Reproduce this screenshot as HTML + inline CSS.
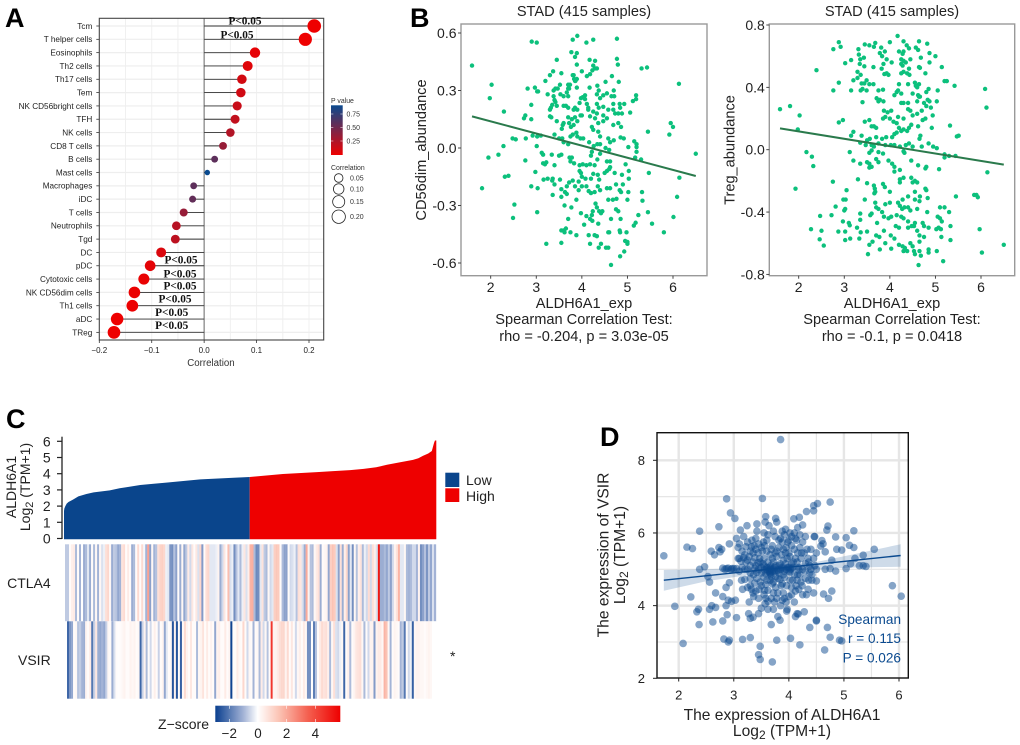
<!DOCTYPE html>
<html lang="en">
<head>
<meta charset="utf-8">
<title>ALDH6A1 immune correlation figure</title>
<style>
html,body{margin:0;padding:0;background:#fff;width:1020px;height:745px;overflow:hidden}
svg{display:block;font-family:"Liberation Sans",sans-serif;filter:blur(.35px)}
.letter{font-size:27px;font-weight:bold;fill:#000}
.pl{font-family:"Liberation Serif",serif;font-weight:bold;font-size:11.3px;fill:#111;text-anchor:middle}
.b{font-size:14.6px;fill:#222;text-anchor:middle}
.c{font-size:14px;fill:#222}
.d{font-size:15.6px;fill:#222;text-anchor:middle}
.ds{font-size:13.6px;fill:#0b4a8f;text-anchor:end}
</style>
</head>
<body>
<svg id="fig" width="1020" height="745" viewBox="0 0 1020 745" xmlns="http://www.w3.org/2000/svg">
<rect width="1020" height="745" fill="#fff"/>
<text class="letter" x="5" y="27">A</text>
<text class="letter" x="410" y="27">B</text>
<text class="letter" x="6" y="428">C</text>
<text class="letter" x="600" y="446">D</text>

<g id="panelA"></g>
<g>
<text class="pl" x="245" y="24.5">P&lt;0.05</text>
<text class="pl" x="237" y="38.5">P&lt;0.05</text>
<text class="pl" x="181" y="263.5">P&lt;0.05</text>
<text class="pl" x="180" y="277.5">P&lt;0.05</text>
<text class="pl" x="180" y="289.5">P&lt;0.05</text>
<text class="pl" x="175" y="302.5">P&lt;0.05</text>
<text class="pl" x="171.7" y="316">P&lt;0.05</text>
<text class="pl" x="171.7" y="329">P&lt;0.05</text>
</g>
<text x="211" y="366" text-anchor="middle" font-size="9.7" fill="#333">Correlation</text>
<text x="331" y="103" font-size="6.9" fill="#333">P value</text>
<text x="331" y="170" font-size="6.9" fill="#333">Correlation</text>

<g id="panelB1"></g>
<text class="b" x="584" y="16">STAD (415 samples)</text>
<text class="b" x="584" y="308">ALDH6A1_exp</text>
<text class="b" x="584" y="324">Spearman Correlation Test:</text>
<text class="b" x="584" y="341">rho = -0.204, p = 3.03e-05</text>
<text class="b" transform="translate(426,150) rotate(-90)">CD56dim_abundance</text>

<g id="panelB2"></g>
<text class="b" x="892" y="16">STAD (415 samples)</text>
<text class="b" x="892" y="308">ALDH6A1_exp</text>
<text class="b" x="892" y="324">Spearman Correlation Test:</text>
<text class="b" x="892" y="341">rho = -0.1, p = 0.0418</text>
<text class="b" transform="translate(734.5,150) rotate(-90)">Treg_abundance</text>

<g id="panelC"></g>
<text class="c" text-anchor="middle" font-size="14.6" transform="translate(16,487) rotate(-90)">ALDH6A1</text>
<text class="c" text-anchor="middle" font-size="14.6" transform="translate(30,487) rotate(-90)">Log<tspan dy="3" font-size="11">2</tspan><tspan dy="-3"> (TPM+1)</tspan></text>
<rect x="445.3" y="472.7" width="14" height="14.3" fill="#0a458c"/>
<rect x="445.3" y="488.3" width="14" height="13.7" fill="#ee0000"/>
<text class="c" x="466" y="485" font-size="13.4">Low</text>
<text class="c" x="466" y="501" font-size="13.4">High</text>
<text class="c" x="50.7" y="588" text-anchor="end" font-size="13">CTLA4</text>
<text class="c" x="50.7" y="665" text-anchor="end" font-size="13">VSIR</text>
<text class="c" x="452.7" y="661" text-anchor="middle" font-size="11">*</text>
<text class="c" x="209" y="729" text-anchor="end" font-size="13">Z−score</text>

<g id="panelD"></g>
<text class="d" x="782" y="720">The expression of ALDH6A1</text>
<text class="d" x="782" y="736">Log<tspan dy="3" font-size="12">2</tspan><tspan dy="-3"> (TPM+1)</tspan></text>
<text class="d" transform="translate(608.5,555) rotate(-90)">The expression of VSIR</text>
<text class="d" transform="translate(625,555) rotate(-90)">Log<tspan dy="3" font-size="12">2</tspan><tspan dy="-3"> (TPM+1)</tspan></text>
<text class="ds" x="901" y="624">Spearman</text>
<text class="ds" x="901" y="643">r = 0.115</text>
<text class="ds" x="901" y="662.5">P = 0.026</text>

<defs>
<linearGradient id="pGrad" x1="0" y1="1" x2="0" y2="0"><stop offset="0" stop-color="#ee0000"/><stop offset="1" stop-color="#0a4a8f"/></linearGradient>
<linearGradient id="zGrad" x1="0" y1="0" x2="1" y2="0"><stop offset="0" stop-color="#0a3f8f"/><stop offset=".225" stop-color="#a3b3d6"/><stop offset=".339" stop-color="#ffffff"/><stop offset=".511" stop-color="#fbc3b4"/><stop offset=".741" stop-color="#f46050"/><stop offset="1" stop-color="#ee0000"/></linearGradient>
</defs>
</svg>

<script>
/* ---------- Panel A data ---------- */
const cellNames = ["Tcm","T helper cells","Eosinophils","Th2 cells","Th17 cells","Tem","NK CD56bright cells","TFH","NK cells","CD8 T cells","B cells","Mast cells","Macrophages","iDC","T cells","Neutrophils","Tgd","DC","pDC","Cytotoxic cells","NK CD56dim cells","Th1 cells","aDC","TReg"];
const cellCorr = [0.21,0.193,0.097,0.083,0.072,0.07,0.063,0.059,0.05,0.036,0.02,0.006,-0.02,-0.022,-0.039,-0.053,-0.055,-0.082,-0.103,-0.115,-0.133,-0.137,-0.166,-0.172];
const cellP = [0,0,0.03,0.06,0.11,0.12,0.15,0.18,0.24,0.35,0.58,0.91,0.58,0.56,0.35,0.22,0.2,0.08,0.04,0.02,0.01,0.006,0.001,0.001];
const corrTicks = [-0.2,-0.1,0,0.1,0.2];
const pLegendTicks = [0.25,0.5,0.75];
const sizeLegend = [0.05,0.1,0.15,0.2];

/* ---------- Panel B data ---------- */
const bXTicks = [2,3,4,5,6];
const cd56Ticks = [-0.6,-0.3,0,0.3,0.6];
const tregTicks = [-0.8,-0.4,0,0.4,0.8];
const cd56FitX = [1.59,6.5];
const cd56FitY = [0.165,-0.146];
const tregFitX = [1.59,6.5];
const tregFitY = [0.137,-0.096];
const cd56Points = [[1.59,.43],[2.02,.33],[1.98,.26],[2.29,.19],[1.95,-.05],[2.17,-.035],[2.28,.01],[1.81,-.21],[2.31,-.15],[2.39,-.145],[2.48,.05],[2.55,.045],[2.52,-.295],[2.49,-.365],
[2.9,.555],[3.01,.55],[2.81,.31],[2.97,.315],[3.02,.295],[3.04,.295],[2.89,.225],[2.73,.155],[2.76,.17],[2.89,.15],[2.77,.05],[2.92,.065],[3.02,.06],[3.01,.01],[3.1,.065],[3.12,-.025],[3.15,-.035],[2.76,-.065],[2.98,-.125],[2.89,-.2],[3.03,-.21],[3.02,-.335],[3.22,-.5],[3.15,-.08],[3.22,-.075],[3.19,-.085],[3.16,-.165],[3.2,.35],[3.3,.38],[3.37,.4],[3.45,.46],[3.55,.39],[3.52,.33],[3.25,.28],[3.38,.3],[3.42,.31],[3.47,.31],[3.38,.27],[3.4,.25],[3.53,.28],[3.6,.27],[3.67,.29],[3.7,.27],[3.72,.31],[3.74,.33],[3.86,.35],[3.89,.36],[3.8,.38],[3.85,.35],[3.3,.2],[3.32,.21],[3.35,.225],[3.42,.24],[3.45,.22],[3.6,.22],[3.65,.22],[3.7,.21],[3.3,.165],[3.33,.16],[3.45,.14],[3.6,.13],[3.58,.12],[3.56,.1],[3.7,.16],[3.72,.13],[3.76,.11],[3.78,.15],[3.85,.16],[3.82,.12],[3.9,.14],[3.97,.17],[4.0,.17],[3.9,.2],[3.85,.21],[3.4,.07],[3.5,.05],[3.57,.05],[3.6,.03],[3.7,.02],[3.75,.06],[3.8,.07],[3.88,.08],[3.9,.06],[3.97,.05],[4.03,.05],
[3.9,.585],[3.8,.565],[4.1,.55],[4.25,.565],[4.77,.57],[3.77,.5],[3.89,.495],[3.85,.475],[4.77,.465],[4.79,.435],[4.17,.46],[4.29,.455],[4.25,.43],[3.89,.435],[4.33,.415],[4.29,.415],[4.23,.405],[4.18,.385],[4.0,.4],[4.11,.375],[4.66,.375],[4.81,.345],[4.52,.345],[5.31,.415],[5.43,.42],[6.13,.335],[3.86,.355],[3.82,.38],[3.83,.36],[3.7,.33],[3.7,.31],[3.89,.315],[4.17,.315],[4.34,.325],[4.37,.3],[4.7,.3],[4.55,.285],[4.47,.275],[4.33,.28],[4.4,.26],[4.65,.27],[4.71,.27],[5.19,.275],[5.19,.255],[5.12,.245],[4.02,.265],[4.07,.275],[3.98,.26],[4.07,.255],[3.95,.235],[4.11,.23],[4.14,.21],[4.14,.2],[4.33,.23],[4.37,.21],[4.47,.215],[4.58,.2],[4.69,.23],[4.69,.2],[4.83,.23],[4.93,.23],[5.06,.185],[4.84,.21],[4.73,.18],[4.8,.18],[4.88,.18],[3.82,.2],[4.25,.19],[4.33,.18],[4.18,.165],[4.29,.155],[4.47,.17],[4.55,.155],[4.47,.14],[4.69,.12],[4.8,.13],[4.86,.11],[4.36,.13],[4.22,.11],[4.25,.095],[4.36,.085],[4.4,.06],[4.58,.05],[4.62,.03],[4.7,.04],[4.85,.055],[4.92,.05],[5.02,.005],[5.15,.035],[5.2,.02],[5.2,.005],[5.45,.085],[5.95,.13],[6.0,.11],[5.92,.07],[4.16,.03],[4.26,.01],[4.34,.02],[4.4,.02],[4.52,.0],[4.6,-.01],[5.17,-.05],[5.2,-.02],[5.3,-.06],
[6.5,-.03],[6.14,-.155],[6.09,-.255],[6.01,-.36],[5.8,-.44],[5.54,-.395],[5.47,-.13],[5.32,-.23],[5.33,-.275],[5.24,-.35],[5.45,-.335],[5.18,-.39],[5.14,-.405],[5.03,-.12],[5.03,-.16],[5.02,-.23],[5.0,-.27],[4.96,-.085],[4.88,-.14],[4.72,-.13],[4.75,-.19],[4.9,-.19],[4.86,-.23],[4.83,-.22],[4.76,-.265],[4.68,-.27],[4.62,-.21],[4.55,-.21],[4.58,-.27],[4.75,-.32],[4.8,-.33],[4.64,-.37],[4.85,-.37],[4.83,-.43],[4.84,-.44],[4.6,-.44],[4.58,-.44],[4.98,-.44],[4.95,-.485],[5.0,-.49],[5.0,-.5],[4.93,-.54],[4.84,-.565],[4.64,-.61],[4.58,-.52],[4.53,-.52],[4.42,-.5],[4.37,-.52],[4.33,-.46],[4.28,-.455],[4.18,-.5],[4.15,-.455],[4.05,-.4],[3.98,-.34],[3.88,-.455],[3.75,-.44],[3.55,-.495],[3.6,-.43],[3.65,-.42],[3.62,-.44],[3.55,-.43],[3.7,-.37],[3.62,-.3],[3.77,-.31],[3.88,-.27],[3.55,-.255],[3.55,-.215],[3.63,-.23],[3.67,-.2],[3.67,-.24],[3.36,-.245],[3.4,-.19],[3.35,-.17],[3.36,-.16],[3.52,-.165],[3.25,-.16],[3.4,-.09],[3.34,-.035],[3.5,-.04],[3.55,-.035],[3.73,-.05],[3.75,-.07],[3.78,-.05],[3.83,-.08],[3.95,-.12],[3.98,-.13],[4.0,-.15],[3.95,-.09],[4.02,-.085],[4.1,-.09],[4.18,-.085],[4.28,-.09],[4.2,-.04],[4.22,-.02],[4.34,-.06],[4.4,-.03],[4.55,-.07],[4.62,-.07],[4.62,-.1],[4.55,-.12],[4.5,-.13],[4.6,-.11],[4.35,-.14],[4.38,-.165],[4.25,-.135],[4.2,-.16],[4.08,-.16],[3.93,-.175],[3.8,-.17],[3.72,-.18],[3.85,-.2],[3.93,-.22],[4.0,-.2],[4.1,-.2],[4.15,-.225],[4.2,-.235],[4.28,-.23],[4.35,-.2],[4.4,-.22],[4.3,-.29],[4.33,-.31],[4.24,-.33],[4.22,-.35],[4.38,-.33],[4.42,-.34],[4.45,-.33],[4.18,-.37],[4.23,-.38],[4.1,-.355],[4.36,-.395]];
const tregPoints = [[1.59,.26],[1.81,.28],[2.02,.22],[1.98,.13],[2.17,-.015],[2.29,-.045],[2.32,-.105],[1.93,-.25],[2.39,.51],[2.88,.69],[2.92,.66],[2.76,.645],[3.02,.555],[2.88,.43],[2.76,.38],[3.15,.38],[3.15,.575],[3.2,.445],[3.29,.46],[3.29,.5],[3.36,.48],[3.31,.645],[3.32,.61],[3.43,.59],[3.35,.58],[3.34,.55],[3.45,.675],[3.55,.67],[3.65,.66],[3.68,.685],[3.81,.655],[3.89,.63],[4.0,.69],[3.78,.62],[3.83,.6],[3.93,.58],[3.86,.55],[4.04,.56],[3.64,.53],[3.44,.535],[3.82,.52],[3.88,.485],[3.93,.49],[3.97,.48],[3.49,.445],[3.38,.425],[3.44,.425],[3.55,.42],[3.64,.42],[3.4,.39],[3.36,.38],[3.49,.38],[3.4,.305],[3.71,.33],[3.75,.31],[3.78,.32],[3.86,.31],[3.75,.38],[3.85,.385],
[4.17,.73],[4.3,.695],[4.64,.695],[4.82,.68],[4.37,.67],[4.42,.65],[4.2,.63],[4.3,.63],[4.28,.615],[4.57,.655],[4.62,.64],[4.87,.62],[5.0,.6],[4.25,.58],[4.3,.57],[4.35,.56],[4.45,.58],[4.68,.59],[4.25,.55],[4.28,.54],[4.42,.52],[4.64,.53],[4.66,.525],[4.87,.56],[5.14,.53],[4.25,.49],[4.3,.5],[4.38,.49],[4.43,.48],[4.78,.49],[4.64,.42],[4.2,.42],[4.18,.38],[4.1,.35],[4.15,.37],[4.25,.36],[4.4,.42],[4.55,.43],[4.57,.41],[4.6,.4],[4.85,.39],[4.8,.37],[5.05,.38],[5.2,.44],[5.25,.44],[5.42,.41],[6.09,.39],[6.12,.27],[4.62,.35],[4.64,.34],[4.66,.34],[4.5,.36],[4.25,.3],[4.3,.3],[4.4,.3],[4.6,.31],[4.83,.32],[4.87,.31],[4.9,.27],[5.03,.31],[4.8,.28],[4.75,.3],[4.4,.26],[4.45,.25],[4.5,.22],[4.6,.23],[4.7,.25],[4.78,.2],[4.94,.22],[4.18,.21],[4.3,.2],[4.03,.25],[3.87,.25],[3.95,.24],[3.9,.21],[3.85,.2],[4.0,.2],[4.08,.18],[4.15,.17],[4.2,.14],[4.25,.12],[4.3,.13],[4.38,.12],[4.42,.14],[4.47,.16],[4.62,.15],[4.72,.19],[4.92,.14],[5.32,.155],[5.47,.085],[5.51,.09],[4.67,.09],[4.65,.07],
[3.55,.19],[3.45,.18],[3.6,.15],[3.7,.14],[3.65,.15],[2.88,.175],[2.97,.19],[3.2,.115],[3.15,.09],[3.38,.09],[3.5,.06],[3.56,.07],[3.7,.08],[3.83,.07],[3.92,.08],[4.05,.08],[4.1,.1],[4.15,.11],[3.35,.045],[3.47,.03],[3.6,.03],[3.65,.02],[3.75,.04],[3.9,.03],[4.02,.03],[4.1,.03],[4.22,.02],[4.35,.03],[4.42,.04],[4.5,.02],[4.7,.02],[4.85,.04],[4.95,.02],[5.03,.01],[3.12,-.015],[3.2,-.07],[3.35,-.09],[3.5,-.08],[3.55,-.09],[3.6,-.11],[3.55,-.115],[3.7,-.06],[3.75,-.08],[3.55,-.02],[3.6,-.005],[3.75,-.015],[3.85,-.025],[3.97,-.07],[4.05,-.09],[4.1,-.11],[4.1,-.14],[4.22,-.13],[4.3,-.18],[4.22,-.19],[4.22,-.21],[4.3,-.01],[4.32,-.02],[4.47,-.07],[4.62,-.1],[4.8,-.11],[4.78,-.12],[5.08,-.125],[5.2,-.03],[5.2,-.05],[5.3,-.04],[5.44,-.04],[6.14,-.145],[3.3,-.19],[2.75,-.205],[3.05,-.26],[3.5,-.215],[3.65,-.23],[3.67,-.25],[3.68,-.27],[3.66,-.28],[3.85,-.22],[3.89,-.24],[4.0,-.27],[4.47,-.18],[4.5,-.21],[4.55,-.2],[4.6,-.21],[4.55,-.27],[4.78,-.25],[4.8,-.26],[5.45,-.3],[5.85,-.29],[5.9,-.29],[5.93,-.305],
[2.47,-.425],[2.72,-.42],[2.27,-.51],[2.5,-.52],[2.46,-.575],[2.55,-.615],[2.81,-.365],[2.98,-.32],[3.03,-.32],[3.02,-.38],[3.0,-.39],[2.97,-.46],[2.87,-.525],[3.02,-.525],[3.02,-.58],[3.13,-.57],[3.1,-.47],[3.12,-.485],[3.28,-.5],[3.35,-.41],[3.35,-.45],[3.36,-.53],[3.33,-.57],[3.45,-.32],[3.5,-.525],[3.62,-.59],[3.55,-.61],[3.52,-.67],[3.78,-.64],[3.77,-.56],[3.7,-.55],[3.72,-.47],[3.57,-.42],[3.6,-.41],[3.75,-.38],[3.7,-.37],[3.68,-.34],[3.9,-.35],[3.83,-.4],[3.87,-.43],[3.97,-.44],[4.03,-.43],[4.0,-.34],[4.18,-.34],[4.28,-.32],[4.4,-.3],[4.55,-.32],[4.65,-.33],[4.66,-.3],[4.83,-.31],[4.22,-.36],[4.27,-.38],[4.32,-.37],[4.4,-.37],[4.45,-.39],[4.6,-.38],[4.82,-.4],[5.1,-.37],[5.2,-.37],[5.3,-.4],[5.05,-.43],[5.1,-.44],[5.14,-.46],[4.15,-.42],[4.25,-.43],[4.3,-.44],[4.4,-.46],[4.55,-.47],[4.72,-.47],[4.75,-.49],[4.85,-.5],[5.02,-.51],[5.07,-.5],[5.12,-.51],[5.33,-.49],[5.97,-.51],[3.87,-.52],[4.13,-.49],[4.2,-.5],[4.4,-.5],[4.48,-.49],[4.53,-.49],[4.6,-.52],[4.65,-.55],[5.13,-.56],[5.33,-.58],[4.02,-.55],[4.1,-.57],[3.9,-.6],[4.2,-.61],[4.28,-.62],[4.33,-.63],[4.45,-.6],[4.5,-.62],[4.53,-.65],[4.65,-.59],[4.75,-.56],[4.85,-.64],[4.85,-.66],[5.03,-.65],[4.03,-.635],[4.3,-.65],[4.38,-.65],[4.55,-.67],[4.65,-.65],[4.68,-.68],[4.63,-.74],[5.17,-.715],[6.02,-.66],[6.5,-.61]];

/* ---------- Panel C data ---------- */
const sampleRanks = [0,0.4,1.5,3,5,10,16,25,33,51,62,85,100,114,152,189,207,244,282,300,319,334,348,360,374,389,395,400,406,410,411,412.5,413.5,415];
const expressionValues = [1.7,1.85,2.0,2.15,2.25,2.4,2.6,2.75,2.85,2.97,3.1,3.3,3.38,3.45,3.65,3.75,3.8,3.98,4.1,4.16,4.22,4.3,4.4,4.55,4.7,4.85,4.95,5.1,5.25,5.4,5.6,5.9,6.05,6.05];
const sampleSplit = 207;
const sampleCount = 415;
const expressionTicks = [0,1,2,3,4,5,6];
const zTicks = [-2,0,2,4];
const ctla4Z = [-.7,-.7,.1,.4,.5,-.9,.1,-1,0,-1.1,-.9,-.3,-1.1,.1,-.9,.2,-1,.2,-.4,-.2,.8,1,.2,-1.1,-.7,-.8,-1.2,-1,.7,.9,.1,.5,.1,-1.1,-.9,.1,.9,.1,.9,-.1,-1,2.2,-1.3,.2,-1,-.8,.8,1.1,1.2,1,-.2,-.3,-1.5,-1.6,-.8,-1.3,.1,-1.1,.2,-1.2,
-.7,.5,-.5,.6,.1,.6,-.4,1,-1.4,.1,.8,1,-.3,-.3,-.3,-.2,.3,-1.1,-.5,.6,.1,1.6,-.4,-.2,-1.6,-.8,-.3,-.9,-.2,.6,-.4,.4,1.8,1.9,-.9,-1.7,-1.6,-.3,.7,-.7,-.9,.2,-.5,-.3,1.2,1.4,1.3,.1,-.9,-1.3,-1.3,.1,-.5,-.4,-.2,-.8,.8,.6,-.4,-1.1,2,.3,
-.8,-.9,.2,.5,.8,-1.1,.1,.2,.3,-1.2,1.2,1.5,1.3,-.4,-1.3,.8,-1.1,.4,1,-1.3,-.3,-1.6,.2,-.8,.4,.7,-.9,-.2,-.5,.9,-.5,.8,.4,-.4,5.2,-1.1,-1.1,-.9,-1.2,-.7,-1.3,-.5,.3,.7,1.8,-.3,-.3,.2,-.9,-1,-.9,-.5,-.5,-1,.3,-1.6,-1.3,-.8,-1.5,-.7,-1.2,-.4,-1];
const vsirZ = [0,-2.3,-1.5,-1.2,.1,.2,-.8,-.7,-1,-1.1,.3,.1,.5,-2,-.6,.6,-1.1,-1.2,-1,-1.2,-.6,.2,.1,-1.1,-.4,.1,.05,.1,.2,.3,.1,.1,.3,.2,.3,.1,.2,-2.3,-.6,.3,-.9,.1,-.5,.1,.4,.1,-.6,.1,.3,-1.2,-.3,.1,.2,-2.6,.3,-2.6,.1,-2.4,.2,.9,
.3,.1,.6,.1,.1,-.9,.2,.3,.7,.1,.5,.1,.3,.1,-1.2,.3,.4,.1,.1,.5,.1,.3,-2.9,.1,.1,.5,.2,.1,1,.1,-.5,.2,.1,-1,.1,.2,-.9,.5,-.5,.2,-.8,.1,4.5,.3,.3,.5,.8,1,1,.3,.9,.1,.6,.1,-.5,.2,.4,.1,.5,.2,-1.6,-1.6,
.05,-1.9,-.8,.1,.5,.9,.7,.8,.4,-.9,.2,.8,-.4,-.5,-.2,.2,-2.3,.1,.4,-.9,.1,.3,.6,.7,.8,.2,-.9,.1,-.5,.3,.3,-1.4,.3,.5,.5,.2,1.8,1.5,.2,-1,.1,.3,.2,.1,-1,-.7,-2,.1,-.5,-.2,-2.4,.2,.3,.3,.2,.2,.1,.2,.3,.2,0,0];

/* ---------- Panel D data ---------- */
const dXTicks = [2,3,4,5,6];
const dYTicks = [2,4,6,8];
const vsirFitX = [1.73,6.03];
const vsirFitY = [4.7,5.38];
const bandX = [1.73,2.5,3.3,3.9,4.5,5.2,6.03];
const bandLow = [4.41,4.67,4.85,4.93,5.0,5.05,5.07];
const bandHigh = [4.98,5.0,5.05,5.1,5.2,5.42,5.69];
const vsirPoints = [[1.73,5.37],[2.15,5.61],[2.25,5.57],[2.38,6.05],[2.73,6.17],[2.87,6.94],[2.94,6.55],[3.02,6.4],[3.52,6.95],[3.85,8.57],[4.75,6.85],[4.52,6.81],[4.45,6.75],[4.45,6.61],[4.32,6.59],[4.19,6.43],[4.09,6.39],[5.18,6.06],[5.04,5.87],[4.85,5.89],[5.55,5.55],[5.35,5.39],[5.88,4.55],[6.04,4.26],[5.1,5.66],[5.18,5.6],[4.87,5.55],[4.96,5.53],[4.71,6.19],[4.69,6.08],[4.6,5.79],[4.58,5.64],[4.62,5.7],[4.46,5.9],[4.66,5.48],[4.5,5.45],
[1.93,3.98],[2.08,2.96],[2.22,4.24],[2.33,3.83],[2.36,3.9],[2.37,3.48],[2.38,5.0],[2.47,5.07],[2.53,4.8],[2.56,4.65],[2.56,3.9],[2.6,4.0],[2.62,3.55],[2.59,5.5],[2.65,5.4],[2.67,3.95],[2.67,4.35],[2.73,5.6],[2.75,5.48],[2.78,5.55],[2.8,3.58],[2.8,4.25],[2.8,5.03],[2.82,3.08],[2.84,5.0],[2.86,4.0],[2.86,4.5],[2.87,5.02],[2.88,3.75],[2.9,3.0],[2.92,3.05],[2.9,4.15],[2.92,4.63],[2.9,5.03],[2.92,5.7],[2.96,4.12],[2.97,5.02],[3.03,4.15],[3.05,3.67],[3.05,5.02],[3.05,5.85],[3.08,5.3],[3.1,5.7],[3.12,6.08],[3.13,5.22],[3.14,4.7],[3.16,4.45],[3.16,3.07],[3.18,5.32],[3.18,5.9],[3.2,4.72],[3.22,5.62],[3.24,6.2],[3.25,5.25],[3.27,3.78],[3.28,4.1],[3.3,5.1],[3.3,3.12],[3.3,3.65],[3.32,4.45],[3.32,5.62],[3.35,3.68],[3.36,4.25],[3.38,4.62],[3.4,4.4],[3.38,5.32],[3.4,5.1],[3.4,5.85],[3.42,6.25],[3.42,6.05],[3.45,3.78],[3.46,4.45],[3.47,5.3],[3.48,2.52],[3.45,2.65],[3.48,2.88],[3.5,3.93],[3.52,5.5],[3.54,5.75],[3.55,6.0],[3.57,6.3],[3.58,6.45],[3.56,4.42],[3.57,4.05],[3.58,4.2],[3.6,5.05],[3.6,5.5],[3.62,5.95],[3.64,6.2],[3.62,3.9],[3.65,4.9],[3.65,4.95],[3.66,5.0],[3.67,4.85],[3.67,5.1],[3.68,5.55],[3.68,3.48],[3.7,2.45],[3.7,4.6],[3.72,3.9],[3.72,4.35],[3.74,4.1],[3.72,5.2],[3.75,5.45],[3.75,5.9],[3.76,6.4],[3.78,6.3],[3.78,3.05],[3.78,4.95],[3.8,3.7],[3.8,4.75],[3.82,5.1],[3.82,5.6],[3.84,3.6],[3.85,4.0],[3.86,4.55],[3.87,5.05],[3.87,5.4],[3.88,6.05],[3.9,4.35],[3.9,4.85],[3.92,5.95],[3.94,6.1],[3.95,4.1],[3.96,3.85],[3.97,3.9],[3.97,5.3],[3.98,5.05],[3.98,5.75],[4.0,4.25],[4.0,4.95],[4.02,5.35],[4.03,5.0],[4.03,3.1],[4.05,4.3],[4.05,5.9],[4.07,5.05],[4.07,4.7],[4.1,5.55],[4.1,6.0],[4.12,3.7],[4.13,4.55],[4.14,5.8],[4.15,3.78],[4.16,6.15],[4.17,3.77],[4.18,4.45],[4.18,5.05],[4.2,5.95],[4.2,2.92],[4.22,4.65],[4.23,5.45],[4.25,6.22],[4.28,3.83],[4.3,5.9],[4.3,5.15],[4.32,4.3],[4.33,5.55],[4.35,4.45],[4.36,4.7],[4.38,3.4],[4.38,5.1],[4.4,5.55],[4.42,4.7],[4.45,4.35],[4.47,5.1],[4.5,3.6],[4.5,3.58],[4.5,4.68],[4.5,5.0],[4.47,5.9],[4.63,4.32],[4.65,2.78],[4.66,5.0],[4.7,3.4],[4.72,4.2],[4.75,3.13],[4.78,4.4],[4.78,5.25],[4.75,5.02],[4.85,4.95],[4.92,3.05],[4.96,3.03],[5.04,5.02],[5.12,5.15],[5.2,5.3],[5.28,5.1],[5.35,5.1],[5.4,5.08],
[3.1,5.3],[3.2,5.0],[3.3,4.9],[3.35,5.45],[3.45,5.0],[3.5,4.9],[3.55,5.3],[3.6,4.7],[3.62,5.2],[3.68,4.8],[3.7,5.3],[3.74,4.95],[3.76,5.1],[3.78,5.35],[3.62,4.95],[3.64,5.05],[3.66,4.9],[3.68,5.02],[3.7,4.95],[3.72,5.0],[3.74,5.05],[3.6,5.0],[3.58,4.88],[3.55,5.1],[3.82,4.9],[3.85,5.0],[3.9,5.05],[3.92,4.95],[3.95,5.0],[4.0,5.05],[4.02,4.92],[4.05,5.02],[3.9,5.55],[3.95,5.6],[3.85,5.85],[3.88,5.75],[4.0,5.8],[4.05,5.65],[4.12,5.3],[4.15,5.2],[4.22,5.3],[4.28,5.45],[4.25,5.0],[4.35,5.3],[4.1,4.85],[4.15,4.7],[4.2,4.85],[4.3,4.75],[3.45,5.7],[3.5,5.6],[3.4,5.55],[3.3,5.5],[3.25,5.75],[3.35,5.2],[3.42,4.75],[3.5,4.55],[3.3,4.55],[3.25,4.5],[3.2,5.4],
[3.08,5.6],[3.15,5.5],[3.22,5.2],[3.28,5.35],[3.33,5.8],[3.37,5.65],[3.44,5.45],[3.48,5.2],[3.53,5.15],[3.56,5.65],[3.6,5.8],[3.66,5.4],[3.7,5.65],[3.72,6.05],[3.78,5.5],[3.82,5.8],[3.9,5.25],[3.94,5.45],[4.0,5.45],[4.02,6.0],[4.08,5.2],[4.12,5.85],[4.16,5.45],[4.2,5.6],[4.25,5.75],[4.36,5.2],[4.4,5.0],[4.45,5.3],[3.3,4.75],[3.36,4.85],[3.42,4.92],[3.48,4.65],[3.54,4.78],[3.58,4.58],[3.62,4.42],[3.66,4.7],[3.72,4.65],[3.76,4.5],[3.8,4.35],[3.84,4.72],[3.88,4.6],[3.92,4.78],[3.96,4.55],[4.02,4.7],[4.05,4.5],[4.12,4.4],[4.16,4.85],[4.24,4.55],[4.3,4.95],[4.38,4.9],[4.42,4.85],[3.1,4.95],[3.0,5.02],[2.95,5.0],[3.15,5.05],[3.25,5.0],[3.38,5.02],[3.44,5.18],[3.5,5.05],[3.56,4.98],[3.76,4.8],[3.8,4.98],[3.84,5.15],[3.94,5.15],[4.05,5.15],[4.18,4.98],[3.35,4.35],[3.45,4.2],[3.55,4.3],[3.62,4.12],[3.68,4.2],[3.78,4.2],[3.88,4.15],[3.92,4.2],[4.1,4.1],[4.25,4.3]];

/* ---------- helpers ---------- */
const SVG_NS = "http://www.w3.org/2000/svg";
function mk(tag, parent, attrs, txt){
  const el = document.createElementNS(SVG_NS, tag);
  for (const k in attrs) el.setAttribute(k, attrs[k]);
  if (txt !== undefined) el.textContent = txt;
  parent.appendChild(el);
  return el;
}
function scale(d0,d1,r0,r1){ return v => r0 + (v-d0)*(r1-r0)/(d1-d0); }
function mix(c1,c2,t){
  const r = Math.round(c1[0]+(c2[0]-c1[0])*t), g = Math.round(c1[1]+(c2[1]-c1[1])*t), b = Math.round(c1[2]+(c2[2]-c1[2])*t);
  return "rgb("+r+","+g+","+b+")";
}
function fmtAxis(v,d){ const s = Math.abs(v).toFixed(d); return (v<0?"-":"")+s; }

/* ---------- Panel A ---------- */
(function(){
  const g = document.getElementById("panelA");
  const x = scale(-0.2,0.2,99.3,309);
  const y = i => 26 + i*13.32;
  const top = 18.3, bottom = 340, left = 99.3, right = 323.7;
  const colorP = p => mix([238,0,0],[10,74,143],Math.min(1,p/0.91));
  const radius = c => 1.9 + 10.7*Math.sqrt(Math.abs(c));
  for (let v=-0.15; v<0.23; v+=0.05){
    const gl = mk("line",g,{x1:x(v),x2:x(v),y1:top,y2:bottom,stroke:"#f0f0f0","stroke-width":1});
    
    
  }
  cellNames.forEach((name,i)=>{
    const gl = mk("line",g,{x1:left,x2:right,y1:y(i),y2:y(i),stroke:"#eeeeee","stroke-width":1.2});
    
    
    const tk = mk("line",g,{x1:left-3,x2:left,y1:y(i),y2:y(i),stroke:"#333","stroke-width":.8});
    
    
    const lb = mk("text",g,{x:92.3,y:y(i)+2.9,"text-anchor":"end","font-size":8.2,fill:"#222"},name);
    
    
  });
  const zero = mk("line",g,{x1:x(0),x2:x(0),y1:top,y2:bottom,stroke:"#8a8a8a","stroke-width":1.3});
  
  
  cellCorr.forEach((c,i)=>{
    const st = mk("line",g,{x1:x(0),x2:x(c),y1:y(i),y2:y(i),stroke:"#333","stroke-width":.9});
    
    
  });
  cellCorr.forEach((c,i)=>{
    const dot = mk("circle",g,{cx:x(c),cy:y(i),r:radius(c),fill:colorP(cellP[i])});
    
    
  });
  const box = mk("rect",g,{x:left,y:top,width:right-left,height:bottom-top,fill:"none",stroke:"#444","stroke-width":1.1});
  
  
  corrTicks.forEach(t=>{
    const tk = mk("line",g,{x1:x(t),x2:x(t),y1:bottom,y2:bottom+3,stroke:"#333","stroke-width":.8});
    
    
    const lb = mk("text",g,{x:x(t),y:353,"text-anchor":"middle","font-size":8,fill:"#222"},(t<0?"−":"")+Math.abs(t).toFixed(1));
    
    
  });
  /* P value legend */
  const pY = scale(0,0.75,154.5,114);
  const bar = mk("rect",g,{x:331,y:105.3,width:11.7,height:49.7,fill:"url(#pGrad)"});
  
  
  pLegendTicks.forEach(t=>{
    const tk = mk("line",g,{x1:331,x2:342.7,y1:pY(t),y2:pY(t),stroke:"#fff","stroke-width":.6,"stroke-dasharray":"2.3 7.1"});
    
    
    const lb = mk("text",g,{x:346.5,y:pY(t)+2.4,"font-size":6.9,fill:"#333"},t.toFixed(2));
    
    
  });
  /* Correlation size legend */
  let cy = 178;
  const step = [11,12.7,15];
  sizeLegend.forEach((c,i)=>{
    const ci = mk("circle",g,{cx:338.7,cy:cy,r:radius(c),fill:"#fff",stroke:"#222","stroke-width":.8});
    
    
    const lb = mk("text",g,{x:350,y:cy+2.4,"font-size":7,fill:"#333"},c.toFixed(2));
    
    
    cy += step[i] || 0;
  });
})();

/* ---------- Panel B ---------- */
function drawScatter(id, pts, fitX, fitY, xTicks, yTicks, geom, nm){
  const g = document.getElementById(id);
  const x = scale(2,6,geom.x2,geom.x6);
  const y = scale(0,yTicks[yTicks.length-1],geom.y0,geom.yTop);
  pts.forEach(p=>{
    const dot = mk("circle",g,{cx:x(p[0]),cy:y(p[1]),r:2.2,fill:"#0cc07c"});
    
    
  });
  const fit = mk("line",g,{x1:x(fitX[0]),y1:y(fitY[0]),x2:x(fitX[1]),y2:y(fitY[1]),stroke:"#2a7a4c","stroke-width":2});
  
  
  const box = mk("rect",g,{x:geom.l,y:geom.t,width:geom.r-geom.l,height:geom.b-geom.t,fill:"none",stroke:"#999","stroke-width":1.4});
  
  
  xTicks.forEach(t=>{
    const tk = mk("line",g,{x1:x(t),x2:x(t),y1:geom.b,y2:geom.b+3,stroke:"#333","stroke-width":.9});
    
    
    const lb = mk("text",g,{x:x(t),y:292,"text-anchor":"middle","font-size":14,fill:"#222"},t);
    
    
  });
  yTicks.forEach(t=>{
    const tk = mk("line",g,{x1:geom.l-3,x2:geom.l,y1:y(t),y2:y(t),stroke:"#333","stroke-width":.9});
    
    
    const lb = mk("text",g,{x:geom.l-4.5,y:y(t)+5,"text-anchor":"end","font-size":14,fill:"#222"},fmtAxis(t,1));
    
    
  });
}
drawScatter("panelB1",cd56Points,cd56FitX,cd56FitY,bXTicks,cd56Ticks,{x2:490.7,x6:673,y0:148,yTop:33,l:461,r:707,t:24,b:275.7},"cd56dim");
drawScatter("panelB2",tregPoints,tregFitX,tregFitY,bXTicks,tregTicks,{x2:798.7,x6:981,y0:149.7,yTop:25,l:769.3,r:1014.7,t:24,b:275.7},"treg");

/* ---------- Panel C ---------- */
(function(){
  const g = document.getElementById("panelC");
  const x = scale(0,sampleCount,64,436.3);
  const y = scale(0,6,538.5,441.3);
  function areaPath(pairs){
    let d = "M"+x(pairs[0][0])+" "+y(-0.05);
    pairs.forEach(p=>{ d += "L"+x(p[0])+" "+y(p[1]); });
    d += "L"+x(pairs[pairs.length-1][0])+" "+y(-0.05)+"Z";
    return d;
  }
  const lowPairs = [], highPairs = [];
  sampleRanks.forEach((r,i)=>{
    if (r<=sampleSplit) lowPairs.push([r,expressionValues[i]]);
    if (r>=sampleSplit) highPairs.push([r,expressionValues[i]]);
  });
  const low = mk("path",g,{d:areaPath(lowPairs),fill:"#0a458c"});
  
  
  const high = mk("path",g,{d:areaPath(highPairs),fill:"#ee0000"});
  
  
  const axis = mk("line",g,{x1:62,x2:62,y1:436.7,y2:539,stroke:"#222","stroke-width":1.3});
  
  
  expressionTicks.forEach(t=>{
    const tk = mk("line",g,{x1:57,x2:62,y1:y(t),y2:y(t),stroke:"#222","stroke-width":1.2});
    
    
    const lb = mk("text",g,{x:50.7,y:y(t)+5,"text-anchor":"end","font-size":14,fill:"#222"},t);
    
    
  });
  function zColor(z){
    const white=[255,255,255], midBlue=[163,179,214], deepBlue=[10,63,143];
    const pink=[251,195,180], salmon=[244,96,80], red=[238,0,0];
    if (z<0){
      const t=-z;
      if (t<=1) return mix(white,midBlue,t);
      return mix(midBlue,deepBlue,Math.min(1,(t-1)/1.96));
    }
    if (z<=1.5) return mix(white,pink,z/1.5);
    if (z<=3.5) return mix(pink,salmon,(z-1.5)/2);
    return mix(salmon,red,Math.min(1,(z-3.5)/2.26));
  }
  function row(vals,top,h,nm){
    const w = 371/vals.length;
    vals.forEach((z,i)=>{
      const c = mk("rect",g,{x:65+i*w,y:top,width:w+.15,height:h,fill:zColor(z)});
      
      
    });
  }
  row(ctla4Z,544.3,77,"ctla4");
  row(vsirZ,621.3,77.4,"vsir");
  const zx = scale(-2,4,229.3,315.3);
  const bar = mk("rect",g,{x:215.3,y:705.7,width:125,height:16.3,fill:"url(#zGrad)"});
  
  
  zTicks.forEach(t=>{
    const tk = mk("line",g,{x1:zx(t),x2:zx(t),y1:705.7,y2:722,stroke:"#fff","stroke-width":.6,"stroke-dasharray":"3 10.3"});
    
    
    const lb = mk("text",g,{x:zx(t),y:738,"text-anchor":"middle","font-size":13.4,fill:"#222"},(t<0?"−":"")+Math.abs(t));
    
    
  });
})();

/* ---------- Panel D ---------- */
(function(){
  const g = document.getElementById("panelD");
  const x = scale(2,6,678.7,899);
  const y = scale(2,8,678.3,460.3);
  const l=657,r=908.3,t=432.7,b=678;
  for (let v=2; v<=6; v+=0.5){
    const isMajor = Number.isInteger(v);
    const gl = mk("line",g,{x1:x(v),x2:x(v),y1:t,y2:b,stroke:"#e6e6e6","stroke-width":isMajor?2.4:1.2});
    
    
  }
  for (let v=3; v<=8; v+=1){
    const isMajor = v%2===0;
    const gl = mk("line",g,{x1:l,x2:r,y1:y(v),y2:y(v),stroke:"#e6e6e6","stroke-width":isMajor?2.4:1.2});
    
    
  }
  let bandD = "";
  bandX.forEach((v,i)=>{ bandD += (i?"L":"M")+x(v)+" "+y(bandHigh[i]); });
  for (let i=bandX.length-1;i>=0;i--){ bandD += "L"+x(bandX[i])+" "+y(bandLow[i]); }
  const band = mk("path",g,{d:bandD+"Z",fill:"#0b4a8f","fill-opacity":.2});
  
  
  vsirPoints.forEach(p=>{
    const dot = mk("circle",g,{cx:x(p[0]),cy:y(p[1]),r:3.8,fill:"#0b4a8f","fill-opacity":.5});
    
    
  });
  const fit = mk("line",g,{x1:x(vsirFitX[0]),y1:y(vsirFitY[0]),x2:x(vsirFitX[1]),y2:y(vsirFitY[1]),stroke:"#0b4a8f","stroke-width":1.4});
  
  
  const box = mk("rect",g,{x:l,y:t,width:r-l,height:b-t,fill:"none",stroke:"#111","stroke-width":1.4});
  
  
  dXTicks.forEach(v=>{
    const tk = mk("line",g,{x1:x(v),x2:x(v),y1:b,y2:b+3.5,stroke:"#222","stroke-width":1});
    
    
    const lb = mk("text",g,{x:x(v),y:699.5,"text-anchor":"middle","font-size":13,fill:"#222"},v);
    
    
  });
  dYTicks.forEach(v=>{
    const tk = mk("line",g,{x1:l-4,x2:l,y1:y(v),y2:y(v),stroke:"#222","stroke-width":1});
    
    
    const lb = mk("text",g,{x:645,y:y(v)+4.6,"text-anchor":"end","font-size":13,fill:"#222"},v);
    
    
  });
})();
</script>
</body>
</html>
